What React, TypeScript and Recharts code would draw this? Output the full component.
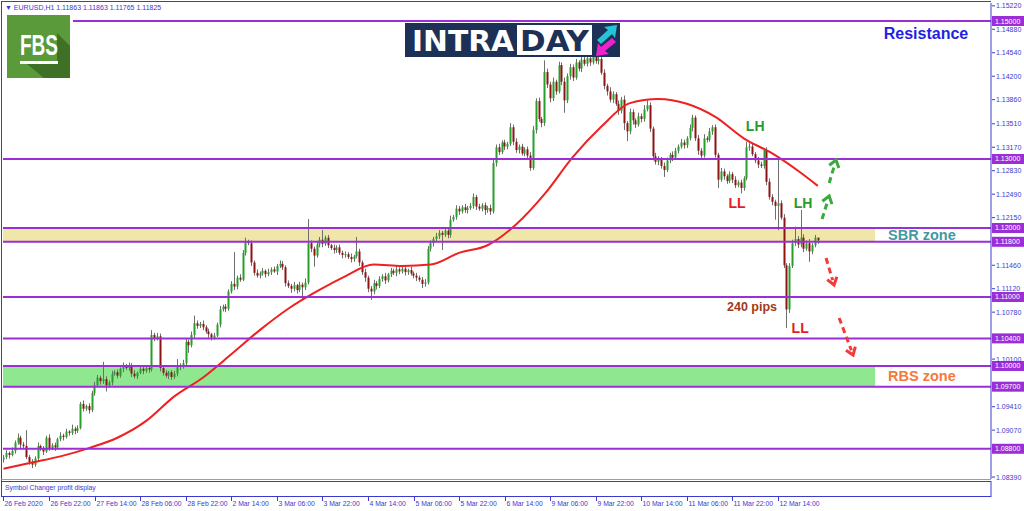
import React from "react";
import {
  ComposedChart,
  Bar,
  Line,
  XAxis,
  YAxis,
  ReferenceLine,
  ReferenceArea,
  ReferenceDot,
} from "recharts";

// EURUSD H1, 26 Feb 2020 06:00 .. 12 Mar 2020 ~14:00 (prices in 1/10000)
const FIRST_OPEN = 10864;

const closes = [
  10868, 10874, 10871, 10877, 10889, 10896, 10886, 10884, 10868, 10861,
  10857, 10866, 10884, 10880, 10876, 10896, 10881, 10885, 10882, 10894,
  10899, 10897, 10905, 10903, 10909, 10906, 10910, 10945, 10938, 10942,
  10936, 10961, 10972, 10983, 10978, 10981, 10972, 10976, 10988, 10991,
  10986, 10996, 11000, 10997, 11001, 10989, 10985, 10990, 10996, 10993,
  10997, 10995, 11045, 11040, 11043, 10997, 10990, 10986, 10991, 10984,
  10989, 11001, 10999, 11004, 11035, 11030, 11045, 11062, 11058, 11061,
  11056, 11050, 11046, 11041, 11044, 11060, 11082, 11086, 11083, 11108,
  11119, 11115, 11128, 11125, 11164, 11180, 11178, 11150, 11135, 11131,
  11134, 11138, 11133, 11136, 11140, 11137, 11145, 11148, 11143, 11120,
  11116, 11112, 11117, 11110, 11118, 11114, 11121, 11178, 11170, 11160,
  11176, 11183, 11177, 11186, 11175, 11171, 11168, 11172, 11164, 11161,
  11162, 11158, 11155, 11159, 11166, 11150, 11136, 11128, 11112, 11108,
  11120, 11116, 11126, 11130, 11124, 11133, 11138, 11135, 11140, 11137,
  11141, 11136, 11139, 11134, 11131, 11128, 11125, 11119, 11121, 11170,
  11178, 11184, 11188, 11193, 11190, 11196, 11190, 11212, 11216, 11228,
  11224, 11230, 11226, 11229, 11232, 11245, 11231, 11228, 11233, 11226,
  11229, 11224, 11294, 11317, 11310, 11324, 11318, 11322, 11346, 11325,
  11313, 11318, 11308, 11314, 11305, 11287, 11342, 11384, 11358, 11352,
  11426, 11408, 11388, 11412, 11398, 11436, 11412, 11385, 11420, 11433,
  11418, 11440, 11431, 11444, 11438, 11446, 11440, 11448, 11442, 11445,
  11425, 11406, 11398, 11386, 11394, 11380, 11370, 11386, 11352, 11340,
  11368, 11356, 11350, 11362, 11358, 11372, 11378, 11344, 11304, 11296,
  11300, 11290, 11284, 11298, 11306, 11302, 11312, 11318, 11324, 11320,
  11330, 11345, 11360, 11330, 11312, 11305, 11330, 11328, 11340, 11346,
  11306, 11270, 11282, 11275, 11268, 11278, 11270, 11262, 11266, 11258,
  11272, 11317, 11318, 11307, 11298, 11292, 11290, 11313, 11267, 11245,
  11238, 11232, 11236, 11215, 11146, 11082, 11145, 11178, 11184, 11176,
  11186, 11170, 11178, 11166, 11175, 11186, 11182,
];

// upper / lower shadow length above / below the body, in pips
const wickUp = [
  3, 4, 2, 5, 3, 6, 3, 4, 23, 3, 4, 3, 5, 2, 4, 3, 5, 3, 4, 2,
  5, 3, 4, 2, 6, 3, 4, 3, 5, 2, 4, 3, 5, 4, 3, 25, 4, 3, 5, 3,
  4, 2, 5, 3, 4, 3, 5, 2, 4, 3, 3, 4, 7, 3, 5, 4, 3, 4, 2, 3,
  4, 9, 3, 5, 4, 3, 5, 11, 4, 3, 5, 3, 4, 2, 4, 3, 5, 3, 4, 3,
  4, 46, 3, 5, 4, 6, 3, 4, 3, 5, 3, 4, 2, 5, 3, 4, 3, 5, 4, 3,
  4, 3, 5, 2, 4, 3, 6, 35, 4, 3, 5, 4, 14, 3, 4, 2, 5, 3, 4, 3,
  4, 3, 5, 2, 21, 4, 3, 5, 3, 4, 5, 3, 4, 3, 5, 2, 4, 3, 5, 3,
  3, 4, 2, 5, 3, 4, 3, 4, 5, 4, 4, 3, 5, 4, 3, 5, 4, 6, 3, 5,
  4, 3, 5, 3, 4, 5, 3, 4, 3, 4, 3, 5, 6, 4, 5, 3, 4, 3, 6, 4,
  5, 3, 4, 3, 4, 5, 6, 4, 5, 3, 17, 5, 4, 6, 3, 5, 4, 6, 4, 5,
  4, 5, 3, 6, 4, 5, 3, 5, 4, 3, 4, 5, 3, 6, 4, 3, 5, 4, 6, 3,
  5, 4, 3, 5, 4, 6, 7, 4, 3, 5, 4, 3, 5, 4, 3, 5, 4, 3, 5, 4,
  3, 5, 4, 3, 5, 4, 6, 3, 5, 3, 4, 3, 5, 4, 3, 4, 3, 5, 3, 4,
  3, 8, 5, 4, 3, 5, 4, 3, 4, 5, 4, 3, 63, 4, 5, 3, 4, 5, 18, 4,
  40, 5, 4, 6, 3, 4, 0,
];
const wickDown = [
  4, 3, 5, 2, 4, 3, 5, 3, 3, 4, 5, 3, 4, 3, 5, 2, 4, 3, 5, 3,
  3, 5, 2, 4, 3, 5, 3, 2, 4, 3, 5, 3, 4, 2, 5, 4, 9, 3, 4, 2,
  4, 3, 5, 3, 4, 5, 3, 4, 2, 5, 3, 5, 3, 4, 3, 5, 4, 3, 5, 4,
  3, 4, 5, 3, 4, 11, 3, 5, 4, 3, 4, 3, 5, 4, 3, 2, 4, 3, 5, 3,
  3, 5, 4, 3, 2, 4, 3, 5, 4, 3, 4, 3, 5, 3, 4, 2, 5, 3, 4, 5,
  3, 6, 4, 5, 3, 18, 4, 3, 5, 16, 3, 4, 5, 3, 4, 3, 5, 4, 3, 5,
  4, 3, 5, 4, 3, 5, 4, 6, 5, 12, 4, 5, 3, 4, 5, 3, 4, 3, 5, 4,
  3, 5, 4, 3, 4, 5, 3, 6, 4, 3, 4, 5, 3, 4, 22, 3, 5, 4, 3, 4,
  5, 3, 4, 5, 3, 4, 5, 3, 4, 7, 4, 5, 3, 5, 4, 3, 5, 4, 3, 5,
  4, 5, 3, 4, 5, 4, 3, 5, 4, 6, 4, 5, 6, 4, 5, 3, 5, 18, 4, 5,
  5, 3, 4, 5, 3, 4, 5, 3, 4, 5, 3, 5, 6, 4, 5, 3, 6, 4, 10, 14,
  4, 6, 5, 3, 5, 4, 3, 5, 6, 4, 5, 4, 10, 3, 4, 5, 3, 4, 3, 5,
  4, 3, 5, 4, 6, 5, 3, 4, 3, 5, 4, 12, 3, 5, 4, 3, 5, 4, 3, 8,
  4, 3, 5, 3, 4, 5, 3, 4, 5, 4, 5, 20, 35, 3, 4, 27, 5, 3, 4, 5,
  4, 5, 3, 15, 4, 3, 5,
];

// moving average read at every 10th bar
const maBars = [0, 10, 20, 30, 40, 50, 60, 70, 80, 90, 100, 110, 120, 130, 140, 150, 160, 170, 180, 190, 200, 210, 220, 230, 240, 250, 260, 270, 280, 286];
const maValues = [
  10851, 10860, 10869, 10881, 10896, 10920, 10956, 10983, 11017, 11052,
  11083, 11108, 11130, 11147, 11145, 11147, 11164, 11175, 11205, 11249,
  11303, 11347, 11381, 11387, 11380, 11361, 11330, 11308, 11280, 11261,
];

const timeTickBars = [0, 16, 32, 48, 64, 80, 96, 112, 128, 144, 160, 176, 192, 208, 224, 240, 256, 272];
const timeLabels = [
  "26 Feb 2020", "26 Feb 22:00", "27 Feb 14:00", "28 Feb 06:00", "28 Feb 22:00",
  "2 Mar 14:00", "3 Mar 06:00", "3 Mar 22:00", "4 Mar 14:00", "5 Mar 06:00",
  "5 Mar 22:00", "6 Mar 14:00", "9 Mar 06:00", "9 Mar 22:00", "10 Mar 14:00",
  "11 Mar 06:00", "11 Mar 22:00", "12 Mar 14:00",
];

// grid prices of the right scale that are not covered by a level tag
const priceTicks = [
  1.1522, 1.1488, 1.1454, 1.142, 1.1386, 1.1351, 1.1317, 1.1283, 1.1249, 1.1215,
  1.1146, 1.1112, 1.1078, 1.101, 1.0941, 1.0907, 1.0839,
];
const levels = [1.13, 1.12, 1.118, 1.11, 1.104, 1.1, 1.097, 1.088];
const resistanceLevel = 1.15;

const FONT = "'Liberation Sans', Arial, sans-serif";
const AXIS = "#3a3ad0";
const VIOLET = "#9a2fd8";

const data: any[] = closes.map((c, i) => {
  const open = (i === 0 ? FIRST_OPEN : closes[i - 1]) / 10000;
  const close = c / 10000;
  const high = Math.max(open, close) + wickUp[i] / 10000;
  const low = Math.min(open, close) - wickDown[i] / 10000;
  return { i, open, high, low, close, range: [low, high] };
});
maBars.forEach((b, k) => {
  data[b].ma = maValues[k] / 10000;
});

const Candle = (props: any) => {
  const { x, y, width, height, payload } = props;
  if (!payload) return null;
  const { open, close, high, low } = payload;
  const top = Math.min(y, y + height);
  const h = Math.abs(height);
  const k = h / (high - low || 1);
  const py = (p: number) => top + (high - p) * k;
  const cx = Math.round(x + width / 2) + 0.5;
  const bt = py(Math.max(open, close));
  const bb = py(Math.min(open, close));
  const up = close >= open;
  return (
    <g>
      <line x1={cx} x2={cx} y1={top} y2={top + h} stroke="#6e6e6e" strokeWidth={1} />
      <rect x={cx - 1} y={bt} width={2} height={Math.max(1, bb - bt)} fill={up ? "#27a02a" : "#8e1414"} />
    </g>
  );
};

const TimeTick = (props: any) => {
  const { x, y, payload } = props;
  const idx = timeTickBars.indexOf(payload.value);
  const tx = Math.round(x) + 0.5;
  return (
    <g>
      <line x1={tx} x2={tx} y1={y + 18} y2={y + 22} stroke={AXIS} />
      <text x={tx + 1} y={y + 27} fontSize={6.8} fill={AXIS} fontFamily={FONT}>
        {timeLabels[idx]}
      </text>
    </g>
  );
};

const PriceTick = (props: any) => {
  const { x, y, payload } = props;
  return (
    <g>
      <line x1={x + 1} x2={x + 4} y1={y} y2={y} stroke={AXIS} />
      <text x={x + 5} y={y + 2.5} fontSize={7} fill={AXIS} fontFamily={FONT}>
        {payload.value.toFixed(5)}
      </text>
    </g>
  );
};

const levelTag = (value: number) => (p: any) => {
  const vb = p.viewBox || {};
  const right = vb.x + vb.width;
  return (
    <g>
      <rect x={right + 1} y={vb.y - 5} width={32} height={10} fill={VIOLET} />
      <text x={right + 4} y={vb.y + 2.5} fontSize={7} fill="#fff" fontFamily={FONT}>
        {value.toFixed(5)}
      </text>
    </g>
  );
};

const zoneLabel = (text: string, color: string) => (p: any) => {
  const vb = p.viewBox || {};
  return (
    <text
      x={vb.x + vb.width + 13}
      y={vb.y + vb.height / 2 + 5}
      fontSize={14.5}
      fontWeight="bold"
      fill={color}
      fontFamily={FONT}
    >
      {text}
    </text>
  );
};

const notes = [
  { text: "Resistance", bar: 324, price: 1.14826, color: "#1f1fe6", size: 16 },
  { text: "LH", bar: 264, price: 1.13478, color: "#2a9a2a", size: 14 },
  { text: "LL", bar: 257.6, price: 1.12362, color: "#e41e1e", size: 14 },
  { text: "LH", bar: 280.8, price: 1.12362, color: "#2a9a2a", size: 14 },
  { text: "LL", bar: 279.8, price: 1.10551, color: "#e41e1e", size: 14 },
  { text: "240 pips", bar: 262.9, price: 1.10855, color: "#a13a1a", size: 12.5 },
];

const arrows = [
  { from: [287.5, 1.1213], to: [290.0, 1.12464], color: "#3aaa3a" },
  { from: [290.0, 1.12652], to: [292.4, 1.12986], color: "#3aaa3a" },
  { from: [288.9, 1.11565], to: [291.7, 1.11174], color: "#f23a3a" },
  { from: [293.5, 1.10696], to: [298.4, 1.10159], color: "#f23a3a" },
];

const noteLabel = (n: any) => (p: any) => {
  const vb = p.viewBox || {};
  const cx = vb.x + (vb.width || 0) / 2;
  const cy = vb.y + (vb.height || 0) / 2;
  return (
    <text x={cx} y={cy + n.size * 0.36} textAnchor="middle" fontSize={n.size} fontWeight="bold" fill={n.color} fontFamily={FONT}>
      {n.text}
    </text>
  );
};

const arrowShape = (color: string) => (p: any) => {
  const { x1, y1, x2, y2 } = p;
  if ([x1, y1, x2, y2].some((v) => typeof v !== "number" || isNaN(v))) return null;
  const dx = x2 - x1;
  const dy = y2 - y1;
  const len = Math.hypot(dx, dy) || 1;
  const ux = dx / len;
  const uy = dy / len;
  const nx = -uy;
  const ny = ux;
  const bx = x2 - ux * 7;
  const by = y2 - uy * 7;
  return (
    <g>
      <line x1={x1} y1={y1} x2={bx + ux * 2} y2={by + uy * 2} stroke={color} strokeWidth={3} strokeDasharray="6 4" />
      <polyline
        points={`${bx + nx * 5},${by + ny * 5} ${x2},${y2} ${bx - nx * 5},${by - ny * 5}`}
        fill="none"
        stroke={color}
        strokeWidth={3}
      />
    </g>
  );
};

function Overlay() {
  return (
    <svg width={1024} height={511} style={{ position: "absolute", left: 0, top: 0, pointerEvents: "none" }}>
      {/* window frame */}
      <line x1={1.5} y1={1} x2={1.5} y2={497} stroke={AXIS} />
      <line x1={1.5} y1={1.5} x2={991} y2={1.5} stroke={AXIS} />
      <line x1={1.5} y1={479.5} x2={991} y2={479.5} stroke="#9a9ab8" />
      <rect x={1.5} y={481.5} width={989.5} height={15} fill="#fff" stroke={AXIS} />
      <text x={5} y={490} fontSize={6.8} fill={AXIS} fontFamily={FONT}>
        Symbol Changer profit display
      </text>
      <text x={5} y={10} fontSize={7} fill={AXIS} fontFamily={FONT}>
        {"\u25BC  EURUSD,H1  1.11863 1.11863 1.11765 1.11825"}
      </text>

      {/* FBS logo */}
      <rect x={7} y={15} width={63} height={63} fill="#5a9a3a" />
      <polygon points="57,33 70,46 70,78 44,78 27,64 57,64" fill="#3e7026" />
      <text x={20} y={55} fontSize={29} fontWeight="bold" fill="#fff" fontFamily={FONT} textLength={38} lengthAdjust="spacingAndGlyphs">
        FBS
      </text>
      <rect x={20} y={61} width={38} height={3} fill="#fff" />

      {/* INTRADAY logo */}
      <rect x={405} y={23} width={215} height={34} fill="#1d3157" />
      <text x={412} y={51} fontSize={28} fontWeight="bold" fill="#fff" fontFamily="'DejaVu Sans', sans-serif" textLength={102} lengthAdjust="spacingAndGlyphs">
        INTRA
      </text>
      <rect x={517} y={25} width={75} height={30} fill="#fff" />
      <text x={520} y={51} fontSize={28} fontWeight="bold" fill="#1d3157" fontFamily="'DejaVu Sans', sans-serif" textLength={69} lengthAdjust="spacingAndGlyphs">
        DAY
      </text>
      <polygon points="597,40 608,30 604,27 617,25 615,38 612,34 601,44" fill="#22c6d6" />
      <polygon points="616,42 605,51 609,54 596,56 598,43 601,47 612,38" fill="#ee22cc" />
    </svg>
  );
}

export default function App() {
  return (
    <div style={{ position: "absolute", left: 0, top: 0, width: 1024, height: 511, background: "#fff", overflow: "hidden" }}>
      <ComposedChart width={1024} height={511} data={data} margin={{ top: 3, right: 0, bottom: 0, left: 3 }}>
        <XAxis
          type="number"
          dataKey="i"
          domain={[-0.175, 346.825]}
          ticks={timeTickBars}
          interval={0}
          height={32}
          axisLine={false}
          tickLine={false}
          tickSize={0}
          tickMargin={0}
          tick={<TimeTick />}
          allowDataOverflow
        />
        <YAxis
          orientation="right"
          type="number"
          domain={[1.08362, 1.15261]}
          ticks={priceTicks}
          interval={0}
          width={33}
          axisLine={{ stroke: AXIS }}
          tickLine={false}
          tickSize={0}
          tickMargin={0}
          tick={<PriceTick />}
          allowDataOverflow
        />
        <ReferenceArea x1={-0.175} x2={306.1} y1={1.118} y2={1.12} fill="#efe6aa" fillOpacity={1} stroke="none" label={zoneLabel("SBR zone", "#3f9aa2")} />
        <ReferenceArea x1={-0.175} x2={306.1} y1={1.097} y2={1.1} fill="#8fe88f" fillOpacity={1} stroke="none" label={zoneLabel("RBS zone", "#f6783a")} />
        <Bar dataKey="range" shape={<Candle />} barSize={3} isAnimationActive={false} />
        <Line dataKey="ma" type="monotone" stroke="#ee2020" strokeWidth={2} dot={false} connectNulls isAnimationActive={false} />
        {levels.map((lv) => (
          <ReferenceLine key={lv} y={lv} stroke={VIOLET} strokeWidth={2} label={levelTag(lv)} />
        ))}
        <ReferenceLine
          segment={[
            { x: 24.4, y: resistanceLevel },
            { x: 346.825, y: resistanceLevel },
          ]}
          stroke={VIOLET}
          strokeWidth={2}
          label={levelTag(resistanceLevel)}
        />
        {arrows.map((a, k) => (
          <ReferenceLine
            key={"a" + k}
            segment={[
              { x: a.from[0], y: a.from[1] },
              { x: a.to[0], y: a.to[1] },
            ]}
            shape={arrowShape(a.color)}
          />
        ))}
        {notes.map((n, k) => (
          <ReferenceDot key={"n" + k} x={n.bar} y={n.price} r={1} fill="none" stroke="none" label={noteLabel(n)} />
        ))}
      </ComposedChart>
      <Overlay />
    </div>
  );
}
